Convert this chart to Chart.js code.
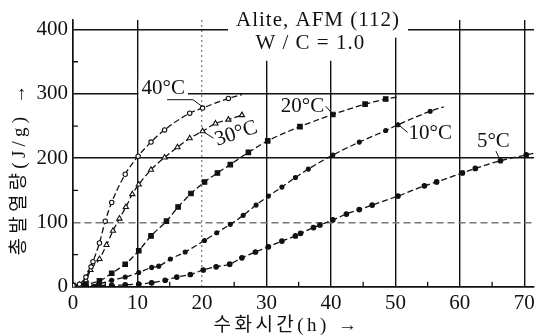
<!DOCTYPE html>
<html>
<head>
<meta charset="UTF-8">
<title>Alite, AFM (112) 수화 발열</title>
<script src="https://cdn.jsdelivr.net/npm/chart.js"></script>
<style>
  body { margin: 0; background: #fff; }
  canvas { display: block; }
</style>
</head>
<body>
<canvas id="grafico" width="541" height="335"></canvas>
<script>
// 수화시간 (h) 와 총발열량 (J/g), 그림에서 읽은 값
const t40 = [0, 1, 2, 2.8, 3.1, 4.1, 5, 6, 8.1, 10.1, 12.1, 14.2, 18.1, 20.1, 24.1, 26.2];
const q40 = [2, 4, 15, 31, 39, 68, 102, 131, 175, 203, 225, 244, 270, 278, 293, 299];

const t30 = [0, 1, 2, 2.7, 4.1, 5.2, 6.2, 7.2, 8.2, 9.2, 10.2, 12.1, 14.2, 16.2, 18.1, 20.1, 22.1, 24.1, 26.2];
const q30 = [2, 3, 10, 26, 43, 65, 87, 106, 124, 144, 159, 182, 201, 217, 231, 242, 254, 260, 267];

const t20 = [0, 2, 4.1, 6, 8.1, 10.2, 12.1, 14.5, 16.3, 18.3, 20.4, 22.4, 24.4, 27.2, 30.2, 35.2, 40.3, 45.3, 48.5, 50.3];
const q20 = [2, 4, 9, 21, 35, 56, 79, 102, 124, 145, 163, 177, 190, 209, 227, 249, 268, 284, 292, 295];

const t10 = [0, 2, 4, 6, 8.1, 10.2, 12.2, 13.3, 15.1, 17.4, 20.4, 22.3, 24.4, 26.4, 28.4, 30.3, 32.4, 34.5, 36.5, 40.3, 44.4, 48.5, 50.4, 55.4, 57.5];
const q10 = [1, 2, 4, 10, 15, 22, 30, 32, 43, 54, 72, 84, 97, 111, 127, 141, 155, 170, 183, 205, 225, 243, 252, 273, 280];

const t5 = [0, 2, 4, 6, 8.1, 10.2, 12.2, 14.3, 16.1, 18.2, 20.2, 22.2, 24.3, 26.2, 28.3, 30.3, 32.4, 34.5, 35.3, 37.3, 38.3, 40.3, 42.4, 44.4, 46.4, 50.4, 54.5, 56.4, 60.4, 62.4, 66.3, 70.3, 72];
const q5 = [1, 1, 2, 2, 3, 4, 6, 10, 15, 19, 26, 31, 35, 45, 54, 62, 71, 79, 83, 92, 96, 104, 113, 120, 127, 141, 157, 163, 177, 184, 196, 205, 209];

const xTicks = [0, 10, 20, 30, 40, 50, 60, 70];
const yTicks = [0, 100, 200, 300, 400];
const xMenores = [5, 15, 25, 35, 45, 55, 65];
const yMenores = [50, 150, 250, 350];

const titulo1 = 'Alite, AFM (112)';
const titulo2 = 'W / C = 1.0';
const tituloX = '수화시간(h) →';
const tituloY = '총발열량(J/g) →';

// etiquetas de curvas: texto, posición (h, J/g), línea guía
const etiquetas = [
  { texto: '40°C', x: 14.0, y: 308, rot: 0, fondo: true, guia: [[14.6, 291], [18.6, 291], [20.1, 280]] },
  { texto: '30°C', x: 25.3, y: 238, rot: -18, fondo: false, guia: [[20.4, 240], [21.8, 231]] },
  { texto: '20°C', x: 35.6, y: 281, rot: 0, fondo: false, guia: [[39.2, 281], [40.2, 269]] },
  { texto: '10°C', x: 55.4, y: 238, rot: 0, fondo: false, guia: [[50.6, 251], [51.9, 240]] },
  { texto: '5°C', x: 65.2, y: 226, rot: 0, fondo: false, guia: [[65.6, 211], [66.2, 198]] }
];

const negro = '#111';
const serif = "'Liberation Serif', 'Noto Sans CJK KR', serif";

function serie(ts, qs, estilo, radio, relleno, finSinMarca) {
  return {
    data: ts.map((t, i) => ({ x: t, y: qs[i] })),
    borderColor: negro,
    borderWidth: 1.3,
    borderDash: [6, 3],
    cubicInterpolationMode: 'monotone',
    pointStyle: estilo,
    pointRadius: c => (finSinMarca && c.dataIndex === ts.length - 1) ? 0 : radio,
    pointBackgroundColor: relleno,
    pointBorderColor: negro,
    pointBorderWidth: 1.1,
    fill: false
  };
}

function espaciar(ctx, texto, ancho) {
  ctx.letterSpacing = '0px';
  const w = ctx.measureText(texto).width;
  const n = Array.from(texto).length;
  ctx.letterSpacing = Math.max(0, (ancho - w) / n) + 'px';
}

const anotaciones = {
  id: 'anotaciones',
  beforeDatasetsDraw(chart) {
    const { ctx, chartArea: a, scales: { x, y } } = chart;
    ctx.save();
    ctx.strokeStyle = negro;
    ctx.lineWidth = 1.3;
    ctx.beginPath();
    xMenores.forEach(v => {
      const px = x.getPixelForValue(v);
      ctx.moveTo(px, a.bottom);
      ctx.lineTo(px, a.bottom - 5);
    });
    yMenores.forEach(v => {
      const py = y.getPixelForValue(v);
      ctx.moveTo(a.left, py);
      ctx.lineTo(a.left + 5, py);
    });
    ctx.stroke();
    ctx.restore();
  },
  afterDraw(chart) {
    const { ctx, scales: { x, y } } = chart;
    ctx.save();
    ctx.fillStyle = negro;
    ctx.strokeStyle = negro;
    ctx.textAlign = 'center';
    ctx.textBaseline = 'middle';

    // título con fondo blanco
    ctx.font = '21px ' + serif;
    ctx.letterSpacing = '1px';
    const cx1 = x.getPixelForValue(38.0), cy1 = y.getPixelForValue(414);
    const w1 = ctx.measureText(titulo1).width;
    const cx2 = x.getPixelForValue(36.8), cy2 = y.getPixelForValue(378);
    const w2 = ctx.measureText(titulo2).width;
    ctx.fillStyle = '#fff';
    ctx.fillRect(cx1 - w1 / 2 - 8, 0, w1 + 16, cy1 + 17);
    ctx.fillRect(cx2 - w2 / 2 - 8, cy2 - 13, w2 + 16, 30);
    ctx.fillStyle = negro;
    ctx.fillText(titulo1, cx1, cy1);
    ctx.fillText(titulo2, cx2, cy2);

    // etiquetas de las curvas
    ctx.letterSpacing = '0px';
    ctx.font = '21px ' + serif;
    etiquetas.forEach(e => {
      const px = x.getPixelForValue(e.x), py = y.getPixelForValue(e.y);
      ctx.save();
      ctx.translate(px, py);
      ctx.rotate(e.rot * Math.PI / 180);
      if (e.fondo) {
        const w = ctx.measureText(e.texto).width;
        ctx.fillStyle = '#fff';
        ctx.fillRect(-w / 2 - 3, -9, w + 6, 18);
        ctx.fillStyle = negro;
      }
      ctx.fillText(e.texto, 0, 0);
      ctx.restore();
      ctx.lineWidth = 1;
      ctx.beginPath();
      e.guia.forEach((p, i) => {
        const gx = x.getPixelForValue(p[0]), gy = y.getPixelForValue(p[1]);
        if (i === 0) ctx.moveTo(gx, gy); else ctx.lineTo(gx, gy);
      });
      ctx.stroke();
    });

    // títulos de ejes
    ctx.font = '19px ' + serif;
    espaciar(ctx, tituloX, 147);
    ctx.fillText(tituloX, 287, 326);
    ctx.save();
    ctx.translate(20, 168);
    ctx.rotate(-Math.PI / 2);
    espaciar(ctx, tituloY, 175);
    ctx.fillText(tituloY, 0, 0);
    ctx.restore();
    ctx.restore();
  }
};

new Chart(document.getElementById('grafico').getContext('2d'), {
  type: 'line',
  data: {
    datasets: [
      serie(t40, q40, 'circle', 2.2, '#fff', true),
      serie(t30, q30, 'triangle', 3, '#fff', false),
      serie(t20, q20, 'rect', 3.2, negro, true),
      serie(t10, q10, 'circle', 2, negro, true),
      serie(t5, q5, 'circle', 2.3, negro, true)
    ]
  },
  options: {
    responsive: false,
    devicePixelRatio: 1,
    animation: false,
    layout: { padding: { left: 0, right: 7, top: 20, bottom: 0 } },
    plugins: { legend: { display: false }, tooltip: { enabled: false } },
    scales: {
      x: {
        type: 'linear',
        min: 0,
        max: 71.5,
        afterBuildTicks: s => { s.ticks = xTicks.map(v => ({ value: v })); },
        afterFit: s => { s.height = 48.3; },
        ticks: { font: { family: serif, size: 21 }, color: negro, padding: 4, maxRotation: 0 },
        grid: {
          drawTicks: false,
          lineWidth: 1.4,
          color: c => (c.tick && c.tick.value === 20) ? '#888' : negro
        },
        border: {
          color: negro,
          width: 1.5,
          dash: c => (c.tick && c.tick.value === 20) ? [2, 3] : []
        }
      },
      y: {
        type: 'linear',
        min: 0,
        max: 415,
        afterBuildTicks: s => { s.ticks = yTicks.map(v => ({ value: v })); },
        afterFit: s => { s.width = 73; },
        ticks: { font: { family: serif, size: 21 }, color: negro, padding: 5 },
        grid: {
          drawTicks: false,
          lineWidth: 1.4,
          color: c => (c.tick && c.tick.value === 100) ? '#777' : negro
        },
        border: {
          color: negro,
          width: 1.5,
          dash: c => (c.tick && c.tick.value === 100) ? [7, 4] : []
        }
      }
    }
  },
  plugins: [anotaciones]
});
</script>
</body>
</html>
